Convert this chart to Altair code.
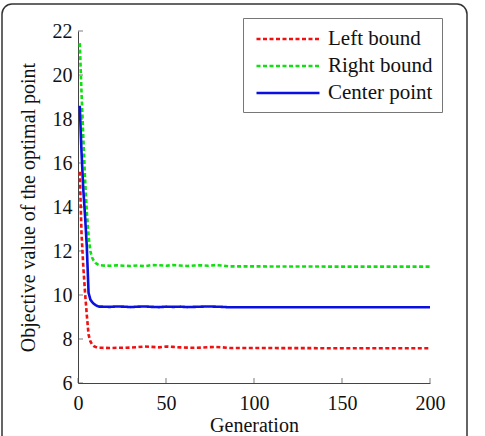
import altair as alt
import pandas as pd

# ---- data ----
generation = [1, 2, 3, 4, 5, 6, 7, 8, 9, 10, 11, 12,
              14, 18, 22, 26, 30, 34, 38, 42, 46, 50, 54, 58, 62, 66, 70, 74, 78, 82, 86,
              100, 150, 200]

left_bound = [15.6, 12.8, 11.3, 10.1, 9.1, 8.2, 7.9, 7.75, 7.68, 7.64, 7.62, 7.60,
              7.60, 7.59, 7.60, 7.60, 7.61, 7.63, 7.66, 7.64, 7.62, 7.66, 7.64, 7.62, 7.61,
              7.60, 7.61, 7.63, 7.64, 7.62, 7.59, 7.59, 7.58, 7.58]

right_bound = [21.45, 19.2, 17.2, 15.3, 13.8, 12.7, 12.0, 11.7, 11.55, 11.45, 11.4, 11.36,
               11.34, 11.33, 11.35, 11.33, 11.32, 11.34, 11.31, 11.36, 11.35, 11.33, 11.36,
               11.34, 11.32, 11.34, 11.35, 11.33, 11.36, 11.34, 11.30, 11.30, 11.29, 11.29]

center_point = [18.6, 16.5, 14.8, 13.6, 12.2, 10.1, 9.8, 9.68, 9.6, 9.54, 9.5, 9.47,
                9.47, 9.46, 9.48, 9.47, 9.45, 9.47, 9.48, 9.46, 9.45, 9.47, 9.46, 9.47, 9.45,
                9.46, 9.47, 9.48, 9.47, 9.46, 9.44, 9.44, 9.44, 9.44]

series_names = ["Left bound", "Right bound", "Center point"]
series_colors = ["#f01010", "#10e010", "#0a10e0"]
series_dash = [[4, 2.5], [4, 2.5], [1, 0]]

x_ticks = [0, 50, 100, 150, 200]
y_ticks = [6, 8, 10, 12, 14, 16, 18, 20, 22]

rows = []
for name, vals in zip(series_names, [left_bound, right_bound, center_point]):
    for g, v in zip(generation, vals):
        rows.append({"Generation": g, "value": v, "series": name})
df = pd.DataFrame(rows)

FONT = "Liberation Serif"

xscale = alt.Scale(domain=[0, 200], nice=False, zero=False)
yscale = alt.Scale(domain=[6, 22], nice=False, zero=False)

lines = alt.Chart(df).mark_line(strokeWidth=2.6, clip=True).encode(
    x=alt.X("Generation:Q", scale=xscale,
            axis=alt.Axis(values=x_ticks, title="Generation", tickSize=0,
                          labelPadding=10, titlePadding=2, grid=False,
                          labelFlush=False)),
    y=alt.Y("value:Q", scale=yscale,
            axis=alt.Axis(values=y_ticks, title="Objective value of the optimal point",
                          tickSize=0, labelPadding=6, titlePadding=14, grid=False)),
    color=alt.Color("series:N",
                    scale=alt.Scale(domain=series_names, range=series_colors),
                    legend=alt.Legend(orient="none", legendX=165, legendY=-13, title=None,
                                      labelFont=FONT, labelFontSize=21, labelColor="#111",
                                      symbolType="M-3,0L3,0", symbolSize=441,
                                      symbolOffset=24,
                                      symbolStrokeWidth=2.6, strokeColor="#777",
                                      fillColor="white", padding=9, rowPadding=5,
                                      labelOffset=28, labelLimit=300)),
    strokeDash=alt.StrokeDash("series:N",
                              scale=alt.Scale(domain=series_names, range=series_dash),
                              legend=None),
    order=alt.Order("Generation:Q"),
)

xticks = alt.Chart(pd.DataFrame({"t": x_ticks})).mark_tick(
    orient="vertical", size=5, thickness=1, color="#444", yOffset=-2.5
).encode(x=alt.X("t:Q", scale=xscale), y=alt.datum(6, scale=yscale))

yticks = alt.Chart(pd.DataFrame({"t": y_ticks})).mark_tick(
    orient="horizontal", size=5, thickness=1, color="#444", xOffset=2.5
).encode(y=alt.Y("t:Q", scale=yscale), x=alt.datum(0, scale=xscale))

frame = alt.Chart(pd.DataFrame({"a": [0]})).mark_rect(
    fill=None, stroke="#333", strokeWidth=1.5, cornerRadius=10
).encode(x=alt.value(-76), x2=alt.value(389), y=alt.value(-27), y2=alt.value(470))

chart = alt.layer(frame, xticks, yticks, lines).properties(
    width=352, height=352,
    background="white",
    autosize=alt.AutoSizeParams(type="none"),
    padding={"left": 78, "top": 31, "right": 55, "bottom": 53},
).configure_view(stroke=None).configure_axis(
    labelFont=FONT, labelFontSize=20, labelColor="#111",
    titleFont=FONT, titleFontSize=20, titleFontWeight="normal", titleColor="#111",
    domainColor="#444", domainWidth=1,
)

chart.save("out.html", embed_options={"renderer": "svg", "actions": False})
